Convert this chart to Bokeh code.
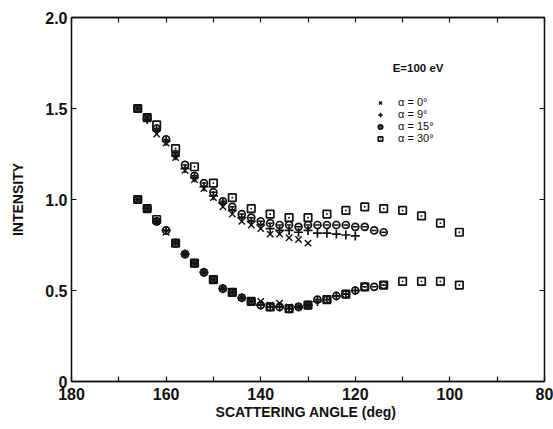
from bokeh.plotting import figure
from bokeh.models import (Range1d, FixedTicker, LinearAxis, Legend, LegendItem, Label,
                          CustomLabelingPolicy)
from bokeh.embed import file_html
from bokeh.resources import INLINE

# ---- data ----
ang_a0 = [166, 164, 162, 160, 158, 156, 154, 152, 150, 148, 146, 144, 142, 140, 138, 136, 134, 132, 130]
up_a0 = [1.50, 1.45, 1.36, 1.31, 1.23, 1.16, 1.11, 1.06, 1.01, 0.96, 0.92, 0.88, 0.86, 0.84, 0.81, 0.81, 0.79, 0.78, 0.76]
low_a0 = [1.00, 0.95, 0.88, 0.82, 0.76, 0.70, 0.65, 0.60, 0.56, 0.51, 0.49, 0.46, 0.44, 0.44, 0.42, 0.43, 0.41, 0.41, 0.42]

ang_a9 = [166, 164, 162, 160, 158, 156, 154, 152, 150, 148, 146, 144, 142, 140, 138, 136, 134, 132, 130, 128, 126, 124, 122, 120]
up_a9 = [1.50, 1.44, 1.38, 1.32, 1.24, 1.17, 1.12, 1.07, 1.02, 0.98, 0.94, 0.90, 0.88, 0.86, 0.84, 0.83, 0.83, 0.82, 0.83, 0.815, 0.815, 0.81, 0.805, 0.80]
low_a9 = [1.00, 0.95, 0.88, 0.83, 0.76, 0.70, 0.65, 0.60, 0.56, 0.51, 0.49, 0.46, 0.44, 0.42, 0.41, 0.41, 0.40, 0.41, 0.42, 0.44, 0.45, 0.47, 0.48, 0.50]

ang_a15 = [166, 164, 162, 160, 158, 156, 154, 152, 150, 148, 146, 144, 142, 140, 138, 136, 134, 132, 130, 128, 126, 124, 122, 120, 118, 116, 114]
up_a15 = [1.50, 1.45, 1.39, 1.33, 1.25, 1.19, 1.13, 1.09, 1.04, 0.99, 0.96, 0.92, 0.90, 0.88, 0.87, 0.86, 0.86, 0.85, 0.86, 0.86, 0.86, 0.86, 0.86, 0.85, 0.85, 0.83, 0.82]
low_a15 = [1.00, 0.95, 0.88, 0.83, 0.76, 0.70, 0.65, 0.60, 0.56, 0.51, 0.49, 0.46, 0.44, 0.42, 0.41, 0.41, 0.40, 0.41, 0.42, 0.45, 0.45, 0.47, 0.48, 0.50, 0.52, 0.52, 0.53]

ang_a30 = [166, 164, 162, 158, 154, 150, 146, 142, 138, 134, 130, 126, 122, 118, 114, 110, 106, 102, 98]
up_a30 = [1.50, 1.45, 1.41, 1.28, 1.18, 1.09, 1.01, 0.95, 0.92, 0.90, 0.90, 0.92, 0.94, 0.96, 0.95, 0.94, 0.91, 0.87, 0.82]
low_a30 = [1.00, 0.95, 0.89, 0.76, 0.65, 0.56, 0.49, 0.44, 0.41, 0.40, 0.42, 0.45, 0.48, 0.52, 0.53, 0.55, 0.55, 0.55, 0.53]

series_labels = ["α = 0°", "α = 9°", "α = 15°", "α = 30°"]
energy_label = "E=100 eV"
x_major = [180, 160, 140, 120, 100, 80]
x_minor = [170, 150, 130, 110, 90]
y_major = [0, 0.5, 1.0, 1.5, 2.0]
y_labels = {0: "0", 0.5: "0.5", 1: "1.0", 1.5: "1.5", 2: "2.0"}

FONT = "'Liberation Sans', Arial, sans-serif"
INK = "#111111"

p = figure(width=553, height=429, output_backend="svg", toolbar_location=None,
           x_range=Range1d(180, 80), y_range=Range1d(0, 2.0),
           min_border_left=71, min_border_right=9, min_border_top=17, min_border_bottom=48)
p.grid.visible = False
p.outline_line_color = INK
p.outline_line_width = 1.3
p.background_fill_color = "white"
p.border_fill_color = "white"

hide_labels = CustomLabelingPolicy(code="""
const all = [...indices];
for (const i of all) indices.unset(i);
return indices;
""")

def style_axis(ax, ticks, minor, show_labels, overrides=None):
    ax.ticker = FixedTicker(ticks=ticks, minor_ticks=minor)
    ax.major_tick_in = 5
    ax.major_tick_out = 0
    ax.minor_tick_in = 5
    ax.minor_tick_out = 0
    ax.major_tick_line_color = INK
    ax.minor_tick_line_color = INK
    ax.major_tick_line_width = 1.2
    ax.minor_tick_line_width = 1.2
    ax.axis_line_color = INK
    ax.axis_line_width = 1.3
    ax.major_label_text_font = FONT
    ax.major_label_text_font_style = "bold"
    ax.major_label_text_font_size = "16px"
    ax.major_label_text_color = INK
    if overrides:
        ax.major_label_overrides = overrides
    if not show_labels:
        ax.major_label_policy = hide_labels
        ax.major_label_standoff = 0
        ax.major_label_text_font_size = "1px"

xa = p.xaxis[0]
style_axis(xa, x_major, x_minor, True)
xa.major_label_standoff = 6
xa.axis_label = "SCATTERING  ANGLE (deg)"
xa.axis_label_text_font = FONT
xa.axis_label_text_font_style = "bold"
xa.axis_label_text_font_size = "14px"
xa.axis_label_standoff = 1
xa.axis_label_text_color = INK

ya = p.yaxis[0]
style_axis(ya, y_major, [], True, y_labels)
ya.major_label_standoff = 4
ya.axis_label = "INTENSITY"
ya.axis_label_text_font = FONT
ya.axis_label_text_font_style = "bold"
ya.axis_label_text_font_size = "14px"
ya.axis_label_standoff = 16
ya.axis_label_text_color = INK

top = LinearAxis()
style_axis(top, x_major, x_minor, False)
p.add_layout(top, "above")
right = LinearAxis()
style_axis(right, y_major, [], False)
p.add_layout(right, "right")

# ---- markers ----
def xmark(xs, ys):
    return p.scatter(xs, ys, marker="x", size=9, line_color=INK, line_width=1.4)

def plus(xs, ys):
    return p.scatter(xs, ys, marker="cross", size=9, line_color=INK, line_width=1.7)

def theta(xs, ys):
    r1 = p.scatter(xs, ys, marker="circle", size=7, line_color=INK, line_width=1.7, fill_color=None)
    r2 = p.scatter(xs, ys, marker="dash", size=5, line_color=INK, line_width=1.5)
    return [r1, r2]

def sq(xs, ys):
    return p.scatter(xs, ys, marker="square_dot", size=7.5, line_color=INK, line_width=1.7,
                     fill_color=None)

r0 = xmark(ang_a0, up_a0); xmark(ang_a0, low_a0)
r9 = plus(ang_a9, up_a9); plus(ang_a9, low_a9)
r15 = theta(ang_a15, up_a15); theta(ang_a15, low_a15)
r30 = sq(ang_a30, up_a30); sq(ang_a30, low_a30)

legend = Legend(items=[LegendItem(label=series_labels[0], renderers=[r0]),
                       LegendItem(label=series_labels[1], renderers=[r9]),
                       LegendItem(label=series_labels[2], renderers=r15),
                       LegendItem(label=series_labels[3], renderers=[r30])],
                location=(302, 237), orientation="vertical",
                border_line_color=None, background_fill_alpha=0,
                padding=0, spacing=-2, margin=0,
                glyph_width=14, glyph_height=11, label_height=11, label_standoff=11,
                label_text_font=FONT,
                label_text_font_size="11px", label_text_color=INK)
p.add_layout(legend, "center")

p.add_layout(Label(x=112.1, y=1.725, text=energy_label, text_font=FONT,
                   text_font_style="bold", text_font_size="11.5px", text_color=INK,
                   text_align="left", text_baseline="middle"))

open("out.html", "w").write(file_html(p, INLINE))
